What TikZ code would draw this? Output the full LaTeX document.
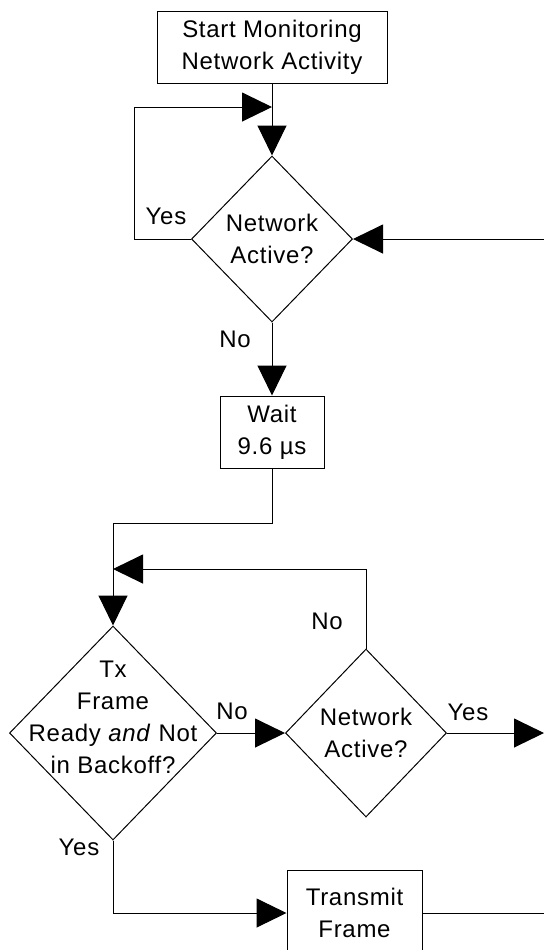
\documentclass[tikz,border=0pt]{standalone}
\usepackage{fontspec}
\setmainfont{Liberation Sans}[LetterSpace=3]
\usepackage{tikz}
\usetikzlibrary{arrows.meta,shapes.geometric,positioning}
\tikzset{
  every node/.style={font=\fontsize{12}{16}\selectfont},
  process/.style={draw,rectangle,align=center,inner sep=0pt,line width=0.5pt},
  decision/.style={draw,diamond,align=center,inner sep=0pt,line width=0.5pt},
  answer/.style={inner sep=0pt},
  flow/.style={line width=0.5pt,-{Triangle[length=15pt,width=14.5pt]}},
  plain/.style={line width=0.5pt}
}

\begin{document}
\begin{tikzpicture}[x=0.5pt,y=-0.5pt]
           \useasboundingbox (0,0) rectangle (544,950);
           \node[process,minimum width=115pt,minimum height=36pt] (start) at (272,47) {Start Monitoring\\Network Activity};
           \node[decision,minimum width=80.5pt,minimum height=83pt] (active1) at (272,239) {Network\\Active?};
           \node[process,minimum width=52pt,minimum height=36pt] (wait) at (272,432) {Wait\\9.6 µs};
           \node[decision,minimum width=103.5pt,minimum height=107pt,
                 label={[align=center,yshift=8pt]center:Tx\\Frame\\Ready \textit{and} Not\\in Backoff?}] (ready) at (113,733) {};
           \node[decision,minimum width=80.5pt,minimum height=84pt] (active2) at (366,733) {Network\\Active?};
           \node[process,minimum width=67.5pt,minimum height=43pt] (send) at (354.5,913) {Transmit\\Frame};
           \node[answer] (yes1) at (166,216) {Yes};
           \node[answer] (no1) at (235,339) {No};
           \node[answer] (no2) at (232,711) {No};
           \node[answer] (no3) at (327,621) {No};
           \node[answer] (yes2) at (468,712) {Yes};
           \node[answer] (yes3) at (79,847) {Yes};
           \coordinate (loopin) at (272,107);
           \coordinate (loopcorner) at (134,107);
           \coordinate (retin) at (544,239);
           \coordinate (backin) at (113,569);
           \coordinate (busyout) at (544,733);
           \coordinate (doneout) at (544,913);
            \draw[flow] (start.south) -- (active1.north);
            \draw[flow] (active1.west) -| (loopcorner) -- (loopin);
            \draw[flow] (retin) -- (active1.east);
            \draw[flow] (active1.south) -- (wait.north);
            \draw[flow] (wait.south) -- ++(0,55) -| (ready.north);
            \draw[flow] (ready.east) -- (active2.west);
            \draw[flow] (active2.north) |- (backin);
            \draw[flow] (active2.east) -- (busyout);
            \draw[flow] (ready.south) |- (send.west);
            \draw[plain] (send.east) -- (doneout);
        \end{tikzpicture}
\end{document}
